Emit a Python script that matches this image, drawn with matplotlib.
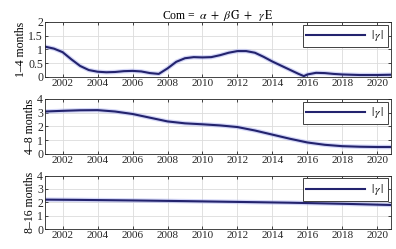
import matplotlib
matplotlib.use("Agg")
import matplotlib.pyplot as plt

plt.rcParams['font.family'] = ['Liberation Serif', 'DejaVu Serif']
plt.rcParams['mathtext.fontset'] = 'stix'

# |gamma|, one list per frequency band
years_1_4 = [2001.0, 2001.5, 2002.0, 2002.5, 2003.0, 2003.5, 2004.0, 2004.5,
             2005.0, 2005.5, 2006.0, 2006.5, 2007.0, 2007.5, 2008.0, 2008.5,
             2009.0, 2009.5, 2010.0, 2010.5, 2011.0, 2011.5, 2012.0, 2012.5,
             2013.0, 2013.5, 2014.0, 2014.5, 2015.0, 2015.5, 2015.8, 2016.0,
             2016.5, 2017.0, 2017.5, 2018.0, 2018.5, 2019.0, 2019.5, 2020.0,
             2020.8]
gamma_1_4 = [1.10, 1.03, 0.90, 0.64, 0.40, 0.25, 0.19, 0.17,
             0.18, 0.21, 0.22, 0.20, 0.14, 0.11, 0.31, 0.55,
             0.68, 0.72, 0.71, 0.72, 0.79, 0.88, 0.94, 0.94,
             0.88, 0.73, 0.56, 0.41, 0.26, 0.11, 0.03, 0.09,
             0.15, 0.14, 0.11, 0.09, 0.08, 0.07, 0.07, 0.07,
             0.08]

years_4_8 = [2001, 2002, 2003, 2004, 2005, 2006, 2007, 2008, 2009, 2010,
             2011, 2012, 2013, 2014, 2015, 2016, 2017, 2018, 2019, 2020, 2020.8]
gamma_4_8 = [3.08, 3.13, 3.17, 3.18, 3.08, 2.90, 2.63, 2.36, 2.22, 2.15,
             2.07, 1.95, 1.70, 1.40, 1.10, 0.83, 0.66, 0.56, 0.52, 0.50, 0.50]

years_8_16 = [2001, 2003, 2006, 2009, 2012, 2015, 2018, 2020.8]
gamma_8_16 = [2.20, 2.18, 2.14, 2.09, 2.03, 1.97, 1.89, 1.80]

band_labels = ['1–4 months', '4–8 months', '8–16 months']
xticks = [2002, 2004, 2006, 2008, 2010, 2012, 2014, 2016, 2018, 2020]

fig = plt.figure(figsize=(3.96, 2.49), dpi=100)
positions = [[0.114, 0.691, 0.874, 0.221],
             [0.114, 0.382, 0.874, 0.221],
             [0.114, 0.080, 0.874, 0.215]]
series = [(years_1_4, gamma_1_4, [0, 0.5, 1, 1.5, 2], ['0', '0.5', '1', '1.5', '2'], 2),
          (years_4_8, gamma_4_8, [0, 1, 2, 3, 4], ['0', '1', '2', '3', '4'], 4),
          (years_8_16, gamma_8_16, [0, 1, 2, 3, 4], ['0', '1', '2', '3', '4'], 4)]

for pos, (x, y, yt, ytl, ymax), lab in zip(positions, series, band_labels):
    ax = fig.add_axes(pos)
    ax.plot(x, y, color='#a8aef0', lw=3.2, alpha=0.5)
    ax.plot(x, y, color='#23236e', lw=1.5, label=r'$|\,\gamma\,|$')
    ax.set_xlim(2001, 2020.8)
    ax.set_ylim(0, ymax)
    ax.set_xticks(xticks)
    ax.set_xticklabels([str(t) for t in xticks], fontsize=8)
    ax.set_yticks(yt)
    ax.set_yticklabels(ytl, fontsize=8.5)
    ax.tick_params(direction='in', length=2.5, width=0.6, top=True, right=True,
                   pad=1.5, colors='#262626')
    ax.grid(True, color='#dcdcdc', lw=0.6)
    for s in ax.spines.values():
        s.set_color('#262626')
        s.set_linewidth(0.6)
    ax.set_ylabel(lab, fontsize=8.5, labelpad=1)
    handles, labels = ax.get_legend_handles_labels()
    leg = ax.legend(handles[-1:], labels[-1:], loc='upper right', fontsize=8.5,
                    fancybox=False, framealpha=1, edgecolor='#404040',
                    borderaxespad=0.25, handlelength=5.0, borderpad=0.3,
                    handletextpad=0.5)
    leg.get_frame().set_linewidth(0.7)
    if lab == band_labels[0]:
        ax.set_title(r'Com = $\;\alpha\ +\ \beta\,\mathrm{G}\ +\ \;\gamma\,\mathrm{E}$',
                     fontsize=8.5, pad=2)

fig.savefig('out.png', dpi=100)
